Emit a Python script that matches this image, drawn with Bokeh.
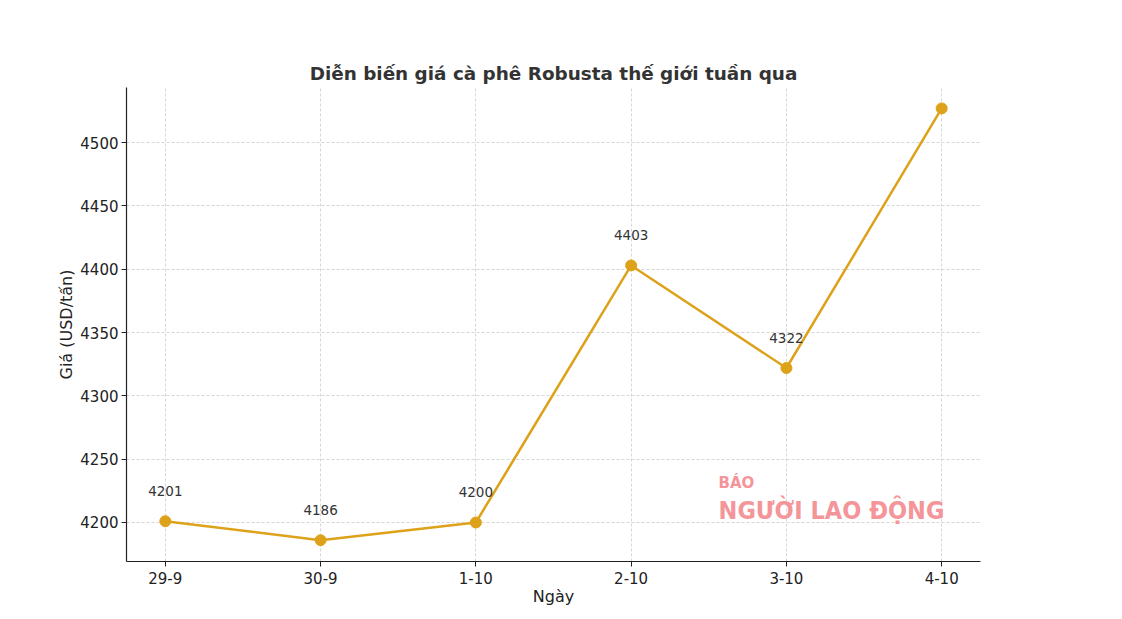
from bokeh.plotting import figure
from bokeh.models import ColumnDataSource, Range1d, FixedTicker, Label, LabelSet
from bokeh.core.properties import value
from bokeh.embed import file_html
from bokeh.resources import INLINE

# Data
days = ["29-9", "30-9", "1-10", "2-10", "3-10", "4-10"]
prices = [4201, 4186, 4200, 4403, 4322, 4527]
y_ticks = [4200, 4250, 4300, 4350, 4400, 4450, 4500]
title_text = "Diễn biến giá cà phê Robusta thế giới tuần qua"
x_label = "Ngày"
y_label = "Giá (USD/tấn)"

idx = list(range(len(days)))
src = ColumnDataSource(dict(x=idx, y=prices, lbl=[str(v) for v in prices]))

FONT = "DejaVu Sans"
p = figure(width=1110, height=610, output_backend="svg", toolbar_location=None,
           x_range=Range1d(-0.25, len(days) - 0.75), y_range=Range1d(4169.2, 4543.5),
           min_border_left=126, min_border_right=130, min_border_top=87, min_border_bottom=49)
p.outline_line_color = None
p.background_fill_color = "white"
p.border_fill_color = "white"

p.title.text = title_text
p.title.align = "center"
p.title.text_font = FONT
p.title.text_font_size = "18.4px"
p.title.text_font_style = "bold"
p.title.text_color = "#333333"
p.title.standoff = 8

for ax in (p.xaxis[0], p.yaxis[0]):
    ax.axis_line_color = "#222222"
    ax.axis_line_width = 1.2
    ax.major_tick_line_color = "#222222"
    ax.major_tick_in = 0
    ax.major_tick_out = 5
    ax.minor_tick_line_color = None
    ax.major_label_text_font = FONT
    ax.major_label_text_font_size = "15px"
    ax.major_label_text_color = "#222222"
    ax.axis_label_text_font = FONT
    ax.axis_label_text_font_size = "16px"
    ax.axis_label_text_font_style = "normal"
    ax.axis_label_text_color = "#222222"

p.xaxis.ticker = FixedTicker(ticks=idx)
p.xaxis.major_label_overrides = {i: d for i, d in zip(idx, days)}
p.xaxis.axis_label = x_label
p.xaxis.major_label_standoff = 5
p.xaxis.axis_label_standoff = 0
p.yaxis.ticker = FixedTicker(ticks=y_ticks)
p.yaxis.axis_label = y_label
p.yaxis.major_label_standoff = 3
p.yaxis.axis_label_standoff = 1

p.xgrid.ticker = FixedTicker(ticks=idx)
p.ygrid.ticker = FixedTicker(ticks=y_ticks)
for g in (p.xgrid[0], p.ygrid[0]):
    g.grid_line_color = "#cccccc"
    g.grid_line_dash = "3 2"
    g.grid_line_width = 0.8

color = "#DDA21A"
p.line("x", "y", source=src, line_color=color, line_width=2.5)
p.scatter("x", "y", source=src, size=11, fill_color=color, line_color=color)

labels = LabelSet(x="x", y="y", text="lbl", source=src, y_offset=25, text_align="center",
                  text_baseline="bottom", text_font=value(FONT), text_font_size="13.5px",
                  text_color="#333333")
p.add_layout(labels)

# watermark
wm1 = Label(x=3.563, y=4231.5, text="BÁO", text_font="DejaVu Sans", text_font_size="15px",
            text_font_style="bold", text_color="#F4959A", text_baseline="alphabetic")
wm2 = Label(x=3.563, y=4209.5, text="NGƯỜI LAO ĐỘNG", text_font="DejaVu Sans Condensed",
            text_font_size="25px", text_font_style="bold", text_color="#F4959A",
            text_baseline="alphabetic")
p.add_layout(wm1)
p.add_layout(wm2)

open("out.html", "w").write(file_html(p, INLINE))
